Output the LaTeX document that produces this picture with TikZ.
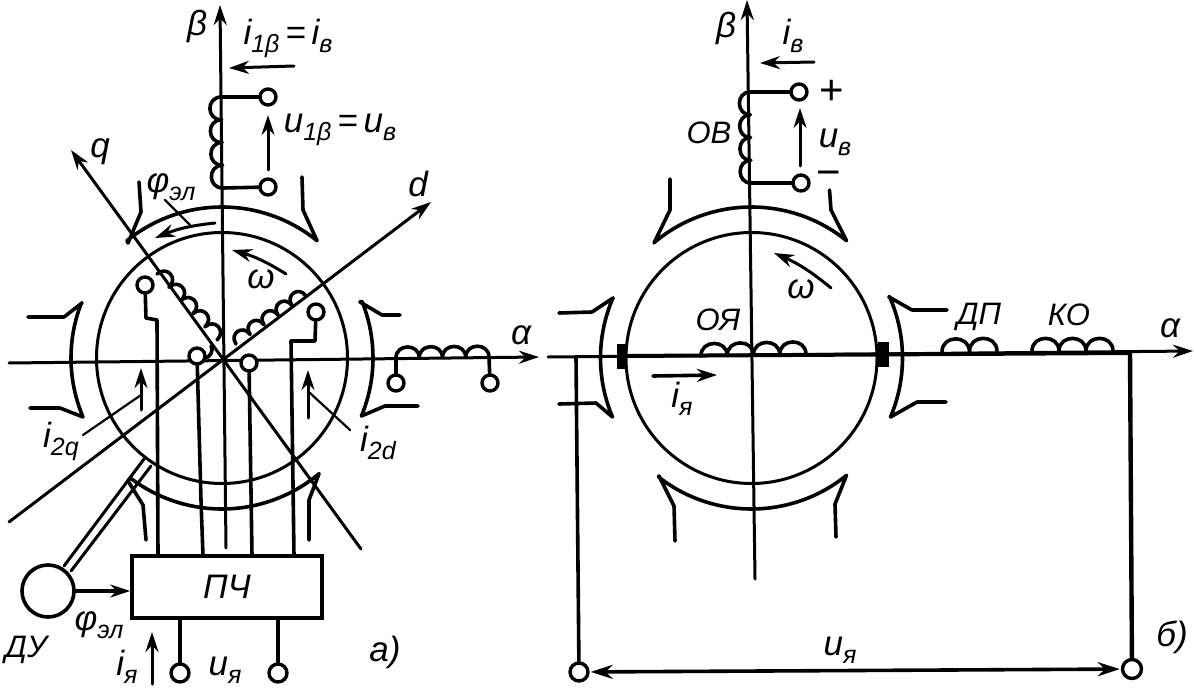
\documentclass[tikz,border=0pt]{standalone}
\usepackage{fontspec}
\setmainfont{Liberation Sans}
\usetikzlibrary{arrows.meta,calc}
\newcommand\pole[5]{\draw[thick line] #4 -- plot[domain=#2:#3,samples=30,smooth] ({#1+151*cos(\x)},{358-151*sin(\x)}) #5;}
\newcommand\coil[4]{\foreach \k in {1,...,#3}{\draw[coil line] ($(#1)!{(\k-1)/#3}!(#2)$) to[#4] ($(#1)!{\k/#3}!(#2)$);}}
\newcommand\sbs[1]{\raisebox{-8pt}{\fontsize{25}{25}\selectfont #1}}
\tikzset{
 thick line/.style={line width=3.6pt,line cap=round,line join=round},
 coil line/.style={line width=3.6pt,line cap=round,line join=round},
 med line/.style={line width=3pt,line cap=round,line join=round},
 thin line/.style={line width=2.2pt,line cap=round},
 term/.style={circle,draw,line width=3.4pt,minimum size=16pt,inner sep=0pt,fill=white},
 lbl/.style={inner sep=0pt,font=\fontsize{35}{35}\selectfont\itshape},
 lblb/.style={inner sep=0pt,font=\fontsize{35}{35}\selectfont\itshape},
 lblc/.style={inner sep=0pt,font=\fontsize{31}{31}\selectfont\itshape},
 arr/.style={-{Stealth[length=20pt,width=13pt]}},
 brush/.style={draw,fill=black,line width=1pt,inner sep=0pt,minimum width=8pt,minimum height=24pt}
}
\begin{document}
\begin{tikzpicture}[x=1pt,y=-1pt]
\useasboundingbox (0,0) rectangle (1194,688);
\fill[white] (0,0) rectangle (1194,688);
% ---------- a) ----------
\coordinate (ca) at (222,358);
\draw[med line] (ca) circle[radius=125.5];
\pole{222}{129}{51}{(139,182)--(141,212)--(128,243)}{--(303,210)--(302,177)}
\pole{222}{158.6}{203}{(28,317)--(64,317)--(82,303)}{--(60,408)--(30,408)}
\pole{222}{22}{-22.6}{(400,315)--(382,315)--(360,302)}{--(385,406)--(418,406)}
\pole{222}{232.6}{310}{(146,540)--(143,505)--(128,481)}{--(309,500)--(309,540)}
\coordinate (bat) at (220,5); \coordinate (bab) at (226,548);
\draw[med line,arr] (bab)--(bat);
\coordinate (aal) at (9,363); \coordinate (aar) at (539,357);
\draw[med line,arr] (aal)--(aar);
\coordinate (dl) at (9,522); \coordinate (dr) at (431,202);
\draw[med line,arr] (dl)--(dr);
\coordinate (ql) at (361,549); \coordinate (qr) at (71,150);
\draw[med line,arr] (ql)--(qr);
% field coil
\node[term] (t1) at (268,97) {};
\node[term] (t2) at (268,187) {};
\coordinate (f1) at (221,97); \coordinate (f2) at (223,188);
\draw[thick line] (f1)--(t1); \draw[thick line] (f2)--(t2);
\coil{f1}{f2}{4}{bend right=90,looseness=1.7}
% right horizontal winding
\coordinate (h1) at (396,358); \coordinate (h2) at (489,357);
\coil{h1}{h2}{4}{bend left=90,looseness=1.6}
\node[term] (t3) at (396,383) {};
\node[term] (t4) at (490,383) {};
\draw[thick line] (h1)--(t3); \draw[thick line] (h2)--(t4);
% box
\node[draw,line width=3.6pt,minimum width=190pt,minimum height=62pt,inner sep=0pt,lblc,font=\fontsize{34}{34}\selectfont\itshape] (pch) at (227,587) {ПЧ};
% rotor windings
\node[term] (r1) at (145,285) {};
\node[term] (r2) at (197,356) {};
\node[term] (r3) at (249,363) {};
\node[term] (r4) at (316,312) {};
\coordinate (q1) at (157,274); \coordinate (q2) at (217,340);
\coil{q1}{q2}{5}{bend left=90,looseness=1.9}
\coordinate (q3) at (205,358); \coordinate (q4) at (211,346);
\coil{q3}{q4}{1}{bend right=60}
\coordinate (d1) at (236,344); \coordinate (d2) at (306,296);
\coil{d1}{d2}{5}{bend left=90,looseness=1.9}
\draw[thick line] (r1)--(146,318)--(157,320)--(158,556);
\draw[thick line] (r2)--(201,500)--(203,556);
\draw[thick line] (r3)--(252,556);
\draw[thick line] (r4)--(315,341)--(291,341)--(294,556);
% sensor
\node[circle,draw,line width=3.6pt,minimum size=52pt,inner sep=0pt] (du) at (48,591) {};
\coordinate (s1a) at (64,566); \coordinate (s1b) at (144,459);
\coordinate (s2a) at (71,571); \coordinate (s2b) at (151,466);
\draw[med line] (s1a)--(s1b); \draw[med line] (s2a)--(s2b);
\draw[thick line,arr] (du.east)--(pch.west |- du.east);
\coordinate (b1) at (180,618); \coordinate (b2) at (278,618);
\node[term,minimum size=18pt] (t5) at (180,673) {};
\node[term,minimum size=18pt] (t6) at (278,673) {};
\draw[thick line] (b1)--(t5); \draw[thick line] (b2)--(t6);
% arrows a)
\coordinate (a1s) at (294,66); \coordinate (a1e) at (229,68);
\draw[med line,arr] (a1s)--(a1e);
\coordinate (a2s) at (268,170); \coordinate (a2e) at (268,115);
\draw[med line,arr] (a2s)--(a2e);
\coordinate (a3s) at (215,223); \coordinate (a3e) at (155,238);
\draw[med line,arr] (a3s) to[bend right=8] (a3e);
\coordinate (l1s) at (165,200); \coordinate (l1e) at (190,225);
\draw[thin line] (l1s)--(l1e);
\coordinate (a4s) at (286,274); \coordinate (a4e) at (232,250);
\draw[med line,arr] (a4s) to[bend right=8] (a4e);
\coordinate (a5s) at (141,410); \coordinate (a5e) at (141,368);
\draw[med line,arr] (a5s)--(a5e);
\coordinate (l2s) at (83,435); \coordinate (l2e) at (141,395);
\draw[thin line] (l2s)--(l2e);
\coordinate (a6s) at (308,418); \coordinate (a6e) at (308,370);
\draw[med line,arr] (a6s)--(a6e);
\coordinate (l3s) at (350,430); \coordinate (l3e) at (310,393);
\draw[thin line] (l3s)--(l3e);
\coordinate (a7s) at (152,684); \coordinate (a7e) at (152,632);
\draw[med line,arr] (a7s)--(a7e);
% labels a)
\node[lbl] (lbeta) at (197,26) {β};
\node[lblb] (lib) at (288,38) {i\sbs{1β}\,=\,i\sbs{в}};
\node[lblb] (lub) at (340,130) {u\sbs{1β}\,=\,u\sbs{в}};
\node[lbl] (lq) at (100,152) {q};
\node[lblb] (lphi) at (171,187) {φ\sbs{эл}};
\node[lbl] (lw) at (261,279) {ω};
\node[lbl] (ld) at (418,184) {d};
\node[lbl] (lal) at (521,335) {α};
\node[lblb] (li2q) at (61,441) {i\sbs{2q}};
\node[lblb] (li2d) at (378,443) {i\sbs{2d}};
\node[lblc] (ldu) at (26,650) {ДУ};
\node[lblb] (lphi2) at (99,625) {φ\sbs{эл}};
\node[lblb] (lia) at (127,667) {i\sbs{я}};
\node[lblb] (lua) at (225,670) {u\sbs{я}};
\node[lbl] (lA) at (385,652) {а)};
% ---------- b) ----------
\draw[med line] (751.5,358) circle[radius=125.5];
\pole{751.5}{130}{51}{(670,179)--(670,210)--(654,243)}{--(831,210)--(829.5,190)}
\pole{751.5}{156.5}{203}{(559,313)--(592,312)--(613,298)}{--(596,403)--(559,404)}
\pole{751.5}{24}{-23}{(947,310)--(912,310)--(889,297)}{--(917,402)--(946,402)}
\pole{751.5}{232}{309}{(675,541)--(674,506)--(659,476)}{--(835,504)--(836,537)}
\coordinate (bbt) at (747,0); \coordinate (bbb) at (755,579);
\draw[med line,arr] (bbb)--(bbt);
\coordinate (bal) at (548,357); \coordinate (bar) at (1193,351);
\draw[med line,arr] (bal)--(bar);
\node[brush] (br1) at (621,356) {};
\node[brush,minimum width=10pt] (br2) at (883,354) {};
\coordinate (rr) at (1130,353);
\draw[line width=4pt] (br1)--(rr);
\coordinate (o1) at (701,356); \coordinate (o2) at (806,354);
\coil{o1}{o2}{4}{bend left=90,looseness=1.6}
\coordinate (dp1) at (942,352); \coordinate (dp2) at (997,351);
\coil{dp1}{dp2}{2}{bend left=90,looseness=1.6}
\coordinate (ko1) at (1032,351); \coordinate (ko2) at (1113,351);
\coil{ko1}{ko2}{3}{bend left=90,looseness=1.6}
\node[term,minimum size=18pt] (t7) at (579,672) {};
\node[term,minimum size=19pt] (t8) at (1132,669) {};
\coordinate (ll) at (576,357);
\draw[thick line] (ll)--(t7);
\draw[line width=4.4pt] (rr)--(t8);
\draw[thick line,{Stealth[length=22pt,width=14pt]}-{Stealth[length=22pt,width=14pt]},shorten <=1pt,shorten >=1pt] (t7)--(t8);
\node[term] (t9) at (799,92) {};
\node[term] (t10) at (801,183) {};
\coordinate (e1) at (750,92); \coordinate (e2) at (751,183);
\draw[thick line] (e1)--(t9); \draw[thick line] (e2)--(t10);
\coil{e1}{e2}{4}{bend right=90,looseness=1.6}
\coordinate (c1s) at (814,62); \coordinate (c1e) at (760,63);
\draw[med line,arr] (c1s)--(c1e);
\coordinate (c2s) at (800,166); \coordinate (c2e) at (800,108);
\draw[med line,arr] (c2s)--(c2e);
\coordinate (c3s) at (831,288); \coordinate (c3e) at (774,253);
\draw[med line,arr] (c3s) to[bend right=8] (c3e);
\coordinate (c4s) at (653,376); \coordinate (c4e) at (717,375);
\draw[thick line,arr] (c4s)--(c4e);
\node[lbl] (lbeta2) at (726,28) {β};
\node[lblb] (lib2) at (793,36) {i\sbs{в}};
\node[lbl,font=\fontsize{42}{42}\selectfont] (lplus) at (832,92) {+};
\node[lbl,font=\fontsize{42}{42}\selectfont] (lminus) at (829,179) {−};
\node[lblc] (lob) at (709,133) {ОВ};
\node[lblb] (lub2) at (835,142) {u\sbs{в}};
\node[lbl] (lw2) at (801,289) {ω};
\node[lblc] (loya) at (718,320) {ОЯ};
\node[lblc] (ldp) at (979,317) {ДП};
\node[lblc] (lko) at (1069,315) {КО};
\node[lbl] (lal2) at (1170,328) {α};
\node[lblb] (lia2) at (682,399) {i\sbs{я}};
\node[lblb] (lua2) at (840,650) {u\sbs{я}};
\node[lbl] (lB) at (1172,637) {б)};
\end{tikzpicture}
\end{document}
